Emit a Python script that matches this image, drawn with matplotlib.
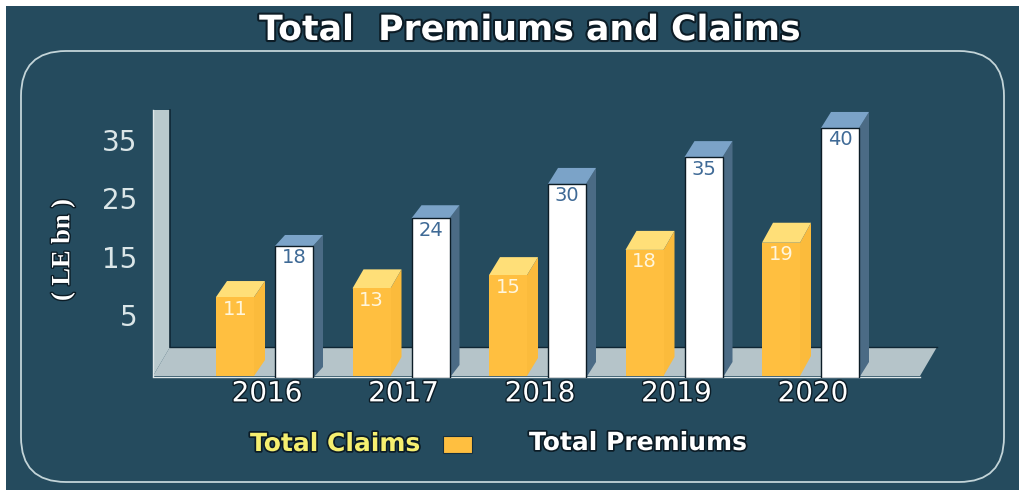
import numpy as np
import matplotlib
matplotlib.use("Agg")
import matplotlib.pyplot as plt
import matplotlib.patheffects as pe
from matplotlib.patches import FancyBboxPatch, Polygon, Rectangle

years = ["2016", "2017", "2018", "2019", "2020"]
# printed labels
claims_labels = [11, 13, 15, 18, 19]
premiums_labels = [18, 24, 30, 35, 40]
# heights (the drawn claims bars run taller than their labels)
claims_heights = [10.8, 12.8, 14.9, 19.4, 20.8]
premiums_heights = [18.7, 23.8, 30.2, 34.8, 39.8]
y_ticks = [5, 15, 25, 35]

BG = "#254b5e"
W, H = 1019, 490
PX_PER_CAT = 136.5
PX_PER_VAL = 5.83
X0 = 265   # pixel of first group centre
Y0 = 344   # pixel of value 0 on the back wall

# depth of the 3d tops in pixels, the source drawing is not regular
claims_depth = [16, 19, 18, 19, 20]
premiums_depth = [11, 13, 16, 16, 16]


def dark_edge(lw=2.5, color="#0c1c26"):
    return [pe.withStroke(linewidth=lw, foreground=color)]


fig = plt.figure(figsize=(W / 100, H / 100), dpi=100, facecolor="white")

# background layer in pixels
bg = fig.add_axes([0, 0, 1, 1])
bg.set_xlim(0, W)
bg.set_ylim(H, 0)
bg.axis("off")
bg.add_patch(Rectangle((6, 6), W - 6, H - 6, fc=BG, ec="none"))
bg.add_patch(FancyBboxPatch((21, 51), 983, 431, boxstyle="round,pad=0,rounding_size=45",
                            fc="none", ec="#c3d4d8", lw=1.3))
bg.add_patch(Polygon([(170, 347), (937, 347), (920, 376), (153, 376)], fc="#b5c4c9", ec="none"))
bg.add_patch(Polygon([(153, 110), (170, 110), (170, 347), (153, 376)], fc="#b9c9cd", ec="none"))
bg.plot([170, 170], [110, 347], color="#0f2634", lw=1.2)
bg.plot([170, 937], [347, 347], color="#0f2634", lw=1.0)
bg.plot([153, 920], [376.5, 376.5], color="#dfe8ea", lw=1.0)
bg.plot([153, 153], [110, 376], color="#dfe8ea", lw=1.0)

bg.text(530, 30, "Total  Premiums and Claims", color="white", fontsize=25, fontweight="bold",
        family="DejaVu Sans", ha="center", va="center", path_effects=dark_edge(3))
bg.text(63, 250, "( LE bn )", color="white", fontsize=19, fontweight="bold", rotation=90,
        family="Liberation Serif", ha="center", va="center", path_effects=dark_edge(2))
bg.text(250, 444, "Total Claims", color="#f6ef70", fontsize=18, fontweight="bold",
        family="DejaVu Sans", ha="left", va="center", path_effects=dark_edge(2.5))
bg.add_patch(Rectangle((443, 436), 29, 17, fc="#ffbf40", ec="#16303f", lw=0.8))
bg.text(529, 443, "Total Premiums", color="white", fontsize=18, fontweight="bold",
        family="DejaVu Sans", ha="left", va="center", path_effects=dark_edge(2.5))

# chart layer, value and category scales
L, R, T, B = 153, 937, 110, 378
ax = fig.add_axes([L / W, 1 - B / H, (R - L) / W, (B - T) / H], facecolor="none")
ax.set_xlim((L - X0) / PX_PER_CAT, (R - X0) / PX_PER_CAT)
ax.set_ylim((Y0 - B) / PX_PER_VAL, (Y0 - T) / PX_PER_VAL)
for s in ax.spines.values():
    s.set_visible(False)

dx_unit = 1 / PX_PER_CAT
dy_unit = 1 / PX_PER_VAL
x = np.arange(len(years))
bar_w = 38 * dx_unit


def bars_3d(left, heights, depths, base_px, depth_x, front, side, top, edge, z):
    base = (Y0 - base_px) / PX_PER_VAL
    dx = depth_x * dx_unit
    dys = np.array(depths) * dy_unit
    fronts = np.array(heights) - dys
    for xi, h, fr, dy in zip(left, heights, fronts, dys):
        ax.add_patch(Polygon([(xi + bar_w, base), (xi + bar_w + dx, base + dy),
                              (xi + bar_w + dx, h), (xi + bar_w, fr)],
                             fc=side, ec="none", zorder=z))
        ax.add_patch(Polygon([(xi, fr), (xi + dx, h), (xi + bar_w + dx, h), (xi + bar_w, fr)],
                             fc=top, ec="none", zorder=z))
    ax.bar(left, fronts - base, bottom=base, width=bar_w, align="edge",
           color=front, edgecolor=edge, linewidth=1.0, zorder=z + 0.1)
    return fronts


claims_left = x - 49 * dx_unit
prem_left = x + 10 * dx_unit
claims_front = bars_3d(claims_left, claims_heights, claims_depth, 376, 11,
                       "#ffbf40", "#fbbb3c", "#ffdf78", "none", 3)
prem_front = bars_3d(prem_left, premiums_heights, premiums_depth, 378, 10,
                     "white", "#4b6b85", "#7ba3c8", "#0c1c26", 4)

for xi, f, lab in zip(claims_left, claims_front, claims_labels):
    ax.text(xi + bar_w / 2, f - 12 * dy_unit, str(lab), color="#fff6dc", fontsize=14,
            ha="center", va="center", zorder=6)
for xi, f, lab in zip(prem_left, prem_front, premiums_labels):
    ax.text(xi + bar_w / 2, f - 12 * dy_unit, str(lab), color="#3f6a96", fontsize=14,
            ha="center", va="center", zorder=6)

ax.set_yticks(y_ticks)
ax.set_yticklabels([str(t) for t in y_ticks], color="#dbe6e8", fontsize=20)
ax.tick_params(axis="y", length=0, pad=11)
ax.set_xticks(x + 2 * dx_unit)
ax.set_xticklabels(years, color="white", fontsize=20)
ax.tick_params(axis="x", length=0, pad=1)
for t in ax.get_xticklabels():
    t.set_path_effects(dark_edge(2))

fig.savefig("out.png", dpi=100, facecolor="white")
